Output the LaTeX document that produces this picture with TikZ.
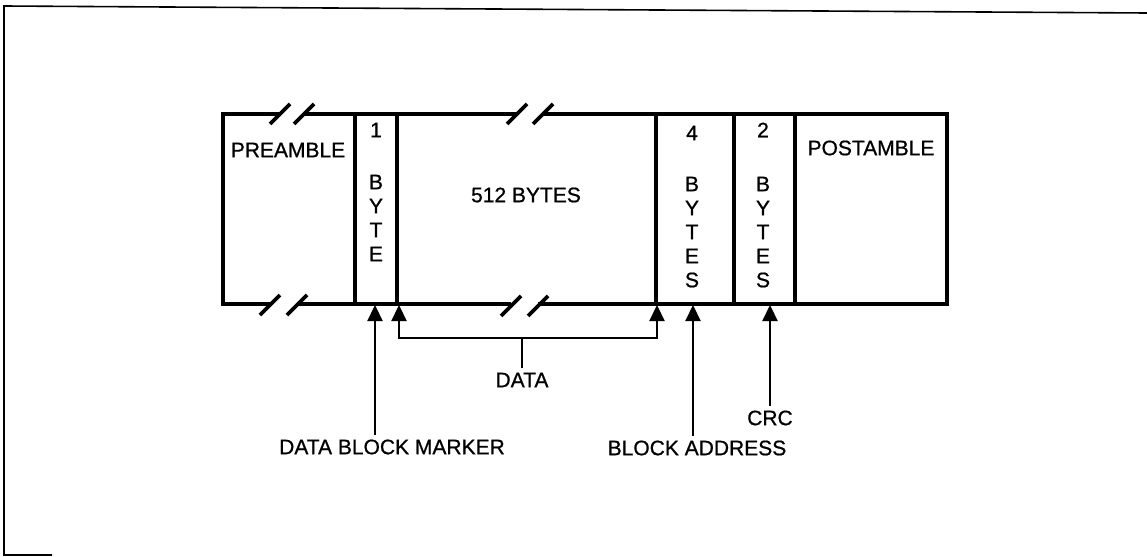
\documentclass[tikz,border=0pt]{standalone}
\usepackage{fontspec}
\setmainfont[RawFeature={embolden=0.8}]{Liberation Sans}
\usetikzlibrary{arrows.meta}
\begin{document}
\begin{tikzpicture}[x=0.5pt,y=-0.5pt,
  boxline/.style={line width=1.8pt,line join=miter},
  brk/.style={line width=1.8pt},
  frameline/.style={line width=0.8pt},
  lbl/.style={font=\fontsize{10.5pt}{12pt}\selectfont,inner sep=0pt},
  tag/.style={font=\fontsize{10.5pt}{12pt}\selectfont,inner sep=2pt},
  arr/.style={line width=1.1pt,-{Triangle[width=7.5pt,length=8pt]}},
  arrboth/.style={line width=1.1pt,{Triangle[width=7.5pt,length=8pt]}-{Triangle[width=7.5pt,length=8pt]}},
  stem/.style={line width=1.1pt}]
\useasboundingbox (0,0) rectangle (1147,557);
% outer frame (partial, as scanned)
\draw[frameline] (1147,13) -- (4,6) -- (4,555) -- (52,555);
% record box
\draw[boxline] (280,114) -- (223,114) -- (223,304) -- (270,304);
\draw[boxline] (304,114) -- (517,114);
\draw[boxline] (297,304) -- (511,304);
\draw[boxline] (543,114) -- (947,114) -- (947,304) -- (538,304);
\foreach \x in {355,397,656,734,795}
  \draw[boxline] (\x,114) -- (\x,304);
% break marks
\foreach \cx/\cy in {280/114,304/114,270/305,297/305,517/114,543/114,511/306,538/306}
  \draw[brk] (\cx-10,\cy+10) -- (\cx+10,\cy-10);
% field texts
\node[lbl] (pre) at (288,150) {PREAMBLE};
\node[lbl] (dat) at (526,195) {512 BYTES};
\node[lbl] (post) at (871,148) {POSTAMBLE};
\node[lbl] (n1) at (376,130) {1};
\foreach \c [count=\i] in {B,Y,T,E}
  \node[lbl] (c1-\i) at (376,158+24*\i) {\c};
\node[lbl] (n4) at (692,133) {4};
\foreach \c [count=\i] in {B,Y,T,E,S}
  \node[lbl] (c4-\i) at (692,160+24*\i) {\c};
\node[lbl] (n2) at (763,130) {2};
\foreach \c [count=\i] in {B,Y,T,E,S}
  \node[lbl] (c2-\i) at (763,160+24*\i) {\c};
% labels below
\node[tag] (dbm) at (392,447) {DATA BLOCK MARKER};
\node[tag] (data) at (522,380) {DATA};
\node[tag] (ba) at (697,448) {BLOCK ADDRESS};
\node[tag] (crc) at (770,418) {CRC};
% arrow targets
\coordinate (tm) at (375,305);
\coordinate (tdl) at (399,305);
\coordinate (tdr) at (657,305);
\coordinate (bl) at (399,338);
\coordinate (br) at (657,338);
\coordinate (bk) at (522,338);
\coordinate (ta) at (693,305);
\coordinate (tc) at (770,305);
% connectors
\draw[arr] (dbm.north -| tm) -- (tm);
\draw[arrboth] (tdl) -- (bl) -- (br) -- (tdr);
\draw[stem] (data.north) -- (bk);
\draw[arr] (ba.north -| ta) -- (ta);
\draw[arr] (crc.north) -- (tc);
\end{tikzpicture}
\end{document}
